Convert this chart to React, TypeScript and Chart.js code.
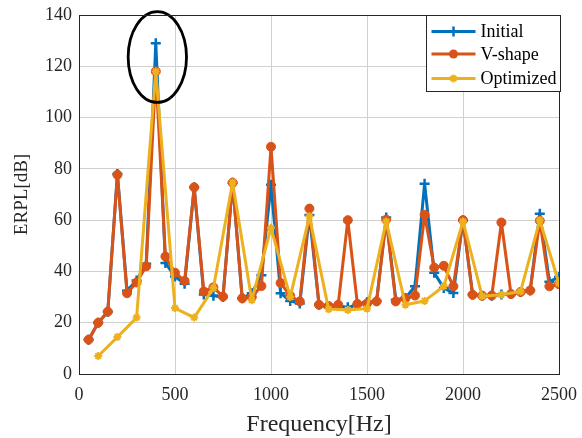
import React, { useEffect, useRef } from "react";
import { Chart, registerables } from "chart.js";

Chart.register(...registerables);

// Frequencies (Hz)
const freqFine = [
  50, 100, 150, 200, 250, 300, 350, 400, 450, 500,
  550, 600, 650, 700, 750, 800, 850, 900, 950, 1000,
  1050, 1100, 1150, 1200, 1250, 1300, 1350, 1400, 1450, 1500,
  1550, 1600, 1650, 1700, 1750, 1800, 1850, 1900, 1950, 2000,
  2050, 2100, 2150, 2200, 2250, 2300, 2350, 2400, 2450, 2500,
];
const freqCoarse = [
  100, 200, 300, 400, 500, 600, 700, 800, 900, 1000,
  1100, 1200, 1300, 1400, 1500, 1600, 1700, 1800, 1900, 2000,
  2100, 2200, 2300, 2400, 2500,
];

// ERPL values (dB)
const initialValues = [
  13.4, 20, 24.3, 78, 32.5, 36.5, 43, 129, 43.3, 38,
  35.2, 72.8, 31, 30.5, 30, 74.6, 29.5, 31.5, 38.5, 73.8,
  31.5, 28.5, 27.5, 62, 27, 26, 26.5, 26, 27, 28,
  28.5, 61, 29, 29.6, 34.2, 74.2, 39.5, 33.5, 31.6, 60,
  31, 30.5, 30.5, 31, 31.2, 32, 32.6, 62.5, 36, 37.8,
];
const vShapeValues = [
  13.4, 20, 24.3, 77.7, 31.5, 35.7, 42, 118, 45.8, 39.5,
  36.3, 72.8, 32.2, 33.8, 30.2, 74.6, 29.5, 30, 34.3, 88.6,
  35.5, 30.5, 28.3, 64.5, 27, 26.5, 27, 60, 27.3, 27.5,
  28.3, 60.2, 28.3, 29.5, 30.6, 62.1, 41.5, 42.2, 34.2, 60,
  30.9, 30.5, 30.6, 59.1, 31.2, 32, 32.6, 59.8, 34.2, 35,
];
const optimizedValues = [
  7, 14.4, 22, 118, 25.7, 22, 33.5, 74.7, 28.8, 57,
  30, 61.5, 25.3, 25, 25.5, 59.5, 27, 28.5, 34.2, 59.5,
  30.3, 30.9, 32.2, 60, 35.3,
];

const seriesNames = ["Initial", "V-shape", "Optimized"];
const xTickValues = [0, 500, 1000, 1500, 2000, 2500];
const yTickValues = [0, 20, 40, 60, 80, 100, 120, 140];

// highlight ellipse around the 400 Hz peak (data units)
const ellipseCenter = { x: 408, y: 123.6 };
const ellipseRadius = { x: 152, y: 17.7 };

const BLUE = "#0072BD";
const ORANGE = "#D95319";
const YELLOW = "#EDB120";
const FONT = "'Liberation Serif', 'Times New Roman', serif";

const toPoints = (xs: number[], ys: number[]) => xs.map((x, i) => ({ x, y: ys[i] }));

const boxPlugin = {
  id: "boxAndExtras",
  afterDatasetsDraw(chart: any) {
    const { ctx, scales } = chart;
    const cx = scales.x.getPixelForValue(ellipseCenter.x);
    const cy = scales.y.getPixelForValue(ellipseCenter.y);
    const rx = Math.abs(scales.x.getPixelForValue(ellipseCenter.x + ellipseRadius.x) - cx);
    const ry = Math.abs(scales.y.getPixelForValue(ellipseCenter.y + ellipseRadius.y) - cy);
    ctx.save();
    ctx.beginPath();
    ctx.ellipse(cx, cy, rx, ry, 0, 0, Math.PI * 2);
    ctx.strokeStyle = "#000";
    ctx.lineWidth = 2.8;
    ctx.stroke();
    ctx.restore();
  },
  afterDraw(chart: any) {
    const { ctx, chartArea } = chart;
    ctx.save();
    ctx.strokeStyle = "#262626";
    ctx.lineWidth = 1;
    ctx.strokeRect(
      Math.round(chartArea.left) + 0.5,
      Math.round(chartArea.top) + 0.5,
      Math.round(chartArea.right - chartArea.left),
      Math.round(chartArea.bottom - chartArea.top)
    );
    const w = 134;
    const h = 76;
    const lx = Math.round(chartArea.right) - w + 1.5;
    const ly = Math.round(chartArea.top) + 0.5;
    ctx.fillStyle = "#ffffff";
    ctx.fillRect(lx, ly, w, h);
    ctx.strokeStyle = "#262626";
    ctx.strokeRect(lx, ly, w, h);
    const colors = [BLUE, ORANGE, YELLOW];
    const rows = [16, 38.5, 63];
    ctx.font = `18px ${FONT}`;
    ctx.textBaseline = "middle";
    ctx.textAlign = "left";
    seriesNames.forEach((name, i) => {
      const y = ly + rows[i];
      ctx.strokeStyle = colors[i];
      ctx.lineWidth = 3;
      ctx.beginPath();
      ctx.moveTo(lx + 5, y);
      ctx.lineTo(lx + 49, y);
      ctx.stroke();
      const mx = lx + 27;
      if (i === 0) {
        ctx.lineWidth = 2.5;
        ctx.beginPath();
        ctx.moveTo(mx, y - 5);
        ctx.lineTo(mx, y + 5);
        ctx.moveTo(mx - 5, y);
        ctx.lineTo(mx + 5, y);
        ctx.stroke();
      } else if (i === 1) {
        ctx.fillStyle = ORANGE;
        ctx.beginPath();
        ctx.arc(mx, y, 4.5, 0, Math.PI * 2);
        ctx.fill();
      } else {
        ctx.lineWidth = 2;
        ctx.beginPath();
        for (let k = 0; k < 4; k++) {
          const a = (k * Math.PI) / 4;
          ctx.moveTo(mx - 4 * Math.cos(a), y - 4 * Math.sin(a));
          ctx.lineTo(mx + 4 * Math.cos(a), y + 4 * Math.sin(a));
        }
        ctx.stroke();
      }
      ctx.fillStyle = "#000";
      ctx.fillText(name, lx + 54, y + 1);
    });
    ctx.restore();
  },
};

export default function App() {
  const ref = useRef<HTMLCanvasElement | null>(null);

  useEffect(() => {
    document.body.style.margin = "0";
    const canvas = ref.current;
    if (!canvas) return;
    const chart = new Chart(canvas, {
      type: "line",
      data: {
        datasets: [
          {
            label: seriesNames[0],
            data: toPoints(freqFine, initialValues),
            borderColor: BLUE,
            backgroundColor: BLUE,
            borderWidth: 3,
            borderJoinStyle: "round",
            pointStyle: "cross",
            pointRadius: 5,
            pointBorderWidth: 2.5,
            order: 3,
          },
          {
            label: seriesNames[1],
            data: toPoints(freqFine, vShapeValues),
            borderColor: ORANGE,
            backgroundColor: ORANGE,
            borderWidth: 3,
            borderJoinStyle: "round",
            pointStyle: "circle",
            pointRadius: 4.5,
            pointBorderWidth: 1,
            order: 2,
          },
          {
            label: seriesNames[2],
            data: toPoints(freqCoarse, optimizedValues),
            borderColor: YELLOW,
            backgroundColor: YELLOW,
            borderWidth: 3,
            borderJoinStyle: "round",
            pointStyle: "star",
            pointRadius: 4,
            pointBorderWidth: 2,
            order: 1,
          },
        ],
      },
      options: {
        responsive: false,
        animation: false,
        devicePixelRatio: 1,
        layout: { padding: { top: 15, right: 23, left: 0, bottom: 0 } },
        plugins: {
          legend: { display: false },
          tooltip: { enabled: false },
        },
        elements: { line: { tension: 0 } },
        scales: {
          x: {
            type: "linear",
            min: 0,
            max: 2500,
            afterFit: (s: any) => {
              s.height = 64;
              s.paddingRight = 0;
              s.paddingLeft = 0;
            },
            afterBuildTicks: (s: any) => {
              s.ticks = xTickValues.map((v) => ({ value: v }));
            },
            ticks: {
              font: { family: FONT, size: 18 },
              color: "#262626",
              padding: 10,
              maxRotation: 0,
              callback: (v: any) => String(v),
            },
            grid: { color: "#d0d0d0", drawTicks: false, lineWidth: 1 },
            border: { color: "#262626", width: 1 },
            title: {
              display: true,
              text: "Frequency[Hz]",
              font: { family: FONT, size: 24, lineHeight: 1.1 },
              color: "#262626",
              padding: { top: 0, bottom: 0 },
            },
          },
          y: {
            type: "linear",
            min: 0,
            max: 140,
            afterFit: (s: any) => {
              s.width = 79;
              s.paddingTop = 0;
              s.paddingBottom = 0;
            },
            afterBuildTicks: (s: any) => {
              s.ticks = yTickValues.map((v) => ({ value: v }));
            },
            ticks: {
              font: { family: FONT, size: 18 },
              color: "#262626",
              padding: 7,
              callback: (v: any) => String(v),
            },
            grid: { color: "#d0d0d0", drawTicks: false, lineWidth: 1 },
            border: { color: "#262626", width: 1 },
            title: {
              display: true,
              text: "ERPL[dB]",
              font: { family: FONT, size: 19 },
              color: "#262626",
              padding: { top: 11, bottom: 0 },
            },
          },
        },
      },
      plugins: [boxPlugin],
    });
    return () => chart.destroy();
  }, []);

  return (
    <div style={{ width: 582, height: 438, background: "#fff" }}>
      <canvas ref={ref} width={582} height={438} style={{ width: 582, height: 438, display: "block" }} />
    </div>
  );
}
